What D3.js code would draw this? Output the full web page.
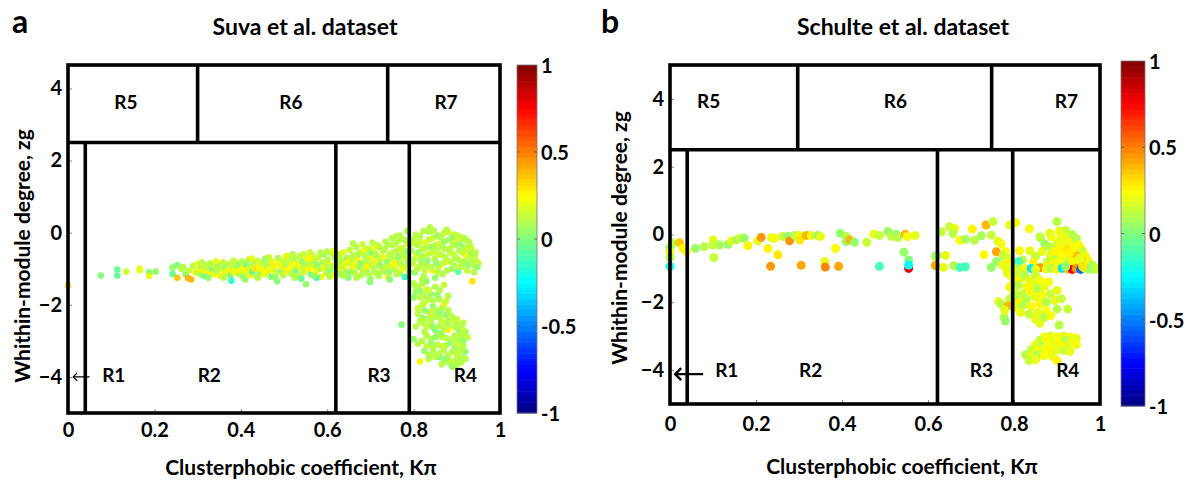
<!DOCTYPE html>
<html><head><meta charset="utf-8">
<script src="https://cdn.jsdelivr.net/npm/d3@7"></script>
<style>
body{margin:0;background:#fff;}
svg{display:block;font-family:Lato,"Open Sans",sans-serif;font-weight:bold;}
</style></head><body>
<svg id="chart" width="1195" height="482"></svg>
<script>
// ---------------- data ----------------
const xTicks=[0,0.2,0.4,0.6,0.8,1];
const xTickLabels=["0","0.2","0.4","0.6","0.8","1"];
const yTicks=[-4,-2,0,2,4];
const cbTicks=[-1,-0.5,0,0.5,1];
const cbTickLabels=["-1","-0.5","0","0.5","1"];
const lowerRegionNames=["R1","R2","R3","R4"];
const upperRegionNames=["R5","R6","R7"];
const hubThreshold=2.5;
const suvaLowerBounds=[0.04,0.62,0.79];
const suvaUpperBounds=[0.3,0.74];
const schulteLowerBounds=[0.04,0.622,0.797];
const schulteUpperBounds=[0.297,0.748];
const titles=["Suva et al. dataset","Schulte et al. dataset"];
const panelLetters=["a","b"];
const xLabel="Clusterphobic coefficient, K\u03c0";
const yLabel="Whithin-module degree, zg";

// [K_pi, z_g, colour value]
const suvaPoints=[
[0.0,-1.46,0.3],[0.076,-1.19,0.0],[0.114,-1.02,-0.05],[0.114,-1.19,-0.05],[0.135,-1.08,0.15],[0.166,-1.0,0.2],[0.166,-1.04,0.2],
[0.188,-1.1,0.0],[0.188,-1.2,0.2],[0.203,-1.08,0.05],[0.242,-0.97,0.05],[0.242,-1.15,-0.05],[0.253,-0.9,0.0],[0.253,-1.25,0.35],
[0.262,-1.0,0.1],[0.267,-0.95,0.1],[0.272,-1.15,0.05],[0.278,-1.26,0.4],[0.285,-1.3,0.4],[0.28,-1.05,0.15],[0.29,-0.92,0.1],[0.295,-1.1,0.2],
[0.30,-0.88,0.2],[0.302,-1.12,0.1],[0.305,-1.0,0.25],[0.308,-0.95,0.1],[0.31,-1.18,0.05],[0.314,-1.05,0.2],[0.318,-0.9,0.15],[0.32,-1.22,-0.05],
[0.323,-0.98,0.1],[0.327,-1.1,0.25],[0.33,-0.85,0.1],[0.334,-1.03,0.0],[0.338,-1.15,0.2],[0.341,-0.93,0.15],[0.345,-1.08,0.1],[0.348,-0.88,0.05],
[0.352,-1.2,0.25],[0.355,-1.0,0.1],[0.359,-0.82,0.15],[0.362,-1.12,0.2],[0.366,-0.95,0.05],[0.37,-1.05,0.25],[0.373,-0.87,0.1],[0.376,-1.18,0.0],
[0.378,-1.33,-0.15],[0.38,-0.98,0.15],[0.384,-1.1,0.25],[0.387,-0.83,0.1],[0.39,-1.02,0.2],[0.393,-0.92,0.05],[0.396,-1.15,0.1],[0.399,-1.05,0.25],
[0.402,-0.8,0.1],[0.405,-0.97,0.2],[0.408,-1.12,0.15],[0.41,-1.3,0.05],[0.412,-0.88,0.0],[0.415,-1.05,0.25],[0.418,-0.75,0.1],[0.421,-1.18,0.2],
[0.424,-0.95,0.15],[0.427,-1.08,-0.05],[0.43,-0.85,0.1],[0.433,-1.0,0.3],[0.436,-1.2,0.1],[0.439,-0.78,0.15],[0.442,-0.92,0.2],[0.445,-1.1,0.05],
[0.448,-1.02,0.25],[0.451,-0.83,0.1],[0.454,-1.15,0.2],[0.457,-0.72,0.05],[0.46,-0.96,0.15],[0.463,-1.07,0.25],[0.466,-0.88,0.1],[0.469,-1.22,0.0],
[0.472,-0.8,0.2],[0.475,-1.0,0.1],[0.478,-0.92,0.25],[0.481,-1.13,0.15],[0.484,-1.35,0.0],[0.486,-0.7,0.1],[0.489,-0.85,0.2],[0.492,-1.05,0.05],
[0.495,-0.95,0.25],[0.498,-1.18,0.1],[0.5,-0.78,0.15],
[0.503,-0.9,0.1],[0.506,-1.08,0.2],[0.509,-0.68,0.05],[0.512,-1.0,0.25],[0.515,-0.82,0.15],[0.518,-1.15,0.1],[0.521,-0.95,0.2],[0.524,-0.74,0.1],
[0.527,-1.05,0.0],[0.53,-0.88,0.25],[0.533,-1.2,0.1],[0.536,-0.65,0.15],[0.539,-0.98,0.2],[0.542,-0.8,0.05],[0.545,-1.1,0.15],[0.548,-0.92,0.1],
[0.551,-1.43,0.05],[0.553,-0.72,0.2],[0.556,-1.02,0.25],[0.559,-0.86,0.1],[0.562,-1.16,0.0],[0.565,-0.62,0.15],[0.568,-0.95,0.2],[0.571,-0.78,0.1],
[0.574,-1.08,0.25],[0.577,-0.9,0.05],[0.58,-0.68,0.15],[0.583,-1.0,0.1],[0.586,-1.22,0.2],[0.589,-0.83,0.1],[0.592,-0.6,0.05],[0.595,-0.97,0.25],
[0.598,-1.12,0.15],[0.601,-0.75,0.1],[0.604,-0.88,0.2],[0.607,-1.05,0.0],[0.61,-0.58,0.15],[0.613,-0.93,0.1],[0.616,-1.18,0.25],[0.618,-0.7,0.1],
[0.52,-0.6,0.1],[0.56,-0.55,0.15],[0.6,-0.52,0.1],[0.575,-1.25,-0.1],[0.54,-1.28,-0.05],
[0.31,-0.82,0.1],[0.325,-1.25,0.05],[0.343,-0.8,0.2],[0.36,-1.25,0.1],[0.383,-0.78,0.15],[0.405,-1.22,0.05],[0.425,-0.72,0.2],[0.44,-1.25,0.1],
[0.465,-0.68,0.15],[0.48,-1.25,0.05],[0.505,-0.65,0.2],[0.525,-1.25,0.1],[0.545,-0.6,0.15],[0.57,-1.2,0.05],[0.585,-0.55,0.1],[0.605,-1.22,0.1],
[0.615,-0.5,0.2],[0.47,-1.0,0.2],[0.52,-0.88,0.2],[0.56,-0.7,0.25],[0.6,-0.95,0.1],
[0.622,-0.85,0.1],[0.625,-1.0,0.2],[0.628,-0.65,0.15],[0.631,-1.15,0.05],[0.634,-0.78,0.1],[0.637,-0.55,0.2],[0.64,-0.92,0.25],[0.643,-1.08,0.1],
[0.646,-0.7,0.05],[0.649,-1.25,0.0],[0.652,-0.48,0.15],[0.655,-0.85,0.1],[0.658,-1.0,0.2],[0.661,-0.62,0.1],[0.664,-1.12,0.15],[0.667,-0.4,0.1],
[0.67,-0.75,0.25],[0.673,-0.95,0.05],[0.676,-0.55,0.15],[0.679,-1.18,0.1],[0.682,-0.32,0.15],[0.685,-0.82,0.2],[0.688,-0.65,0.1],[0.691,-1.05,0.05],
[0.694,-0.45,0.1],[0.697,-0.9,0.15],[0.699,-1.37,0.0],[0.702,-0.7,0.2],[0.705,-0.28,0.1],[0.708,-1.0,0.1],[0.711,-0.58,0.15],[0.714,-0.83,0.25],
[0.717,-1.15,0.1],[0.72,-0.4,0.05],[0.723,-0.72,0.1],[0.726,-0.95,0.2],[0.729,-0.5,0.15],[0.732,-1.08,0.1],[0.735,-0.25,0.1],[0.738,-0.8,0.05],
[0.741,-1.24,0.25],[0.744,-0.62,0.1],[0.747,-0.92,0.15],[0.75,-0.35,0.1],[0.753,-0.75,0.2],[0.756,-1.02,0.1],[0.759,-0.52,0.05],[0.762,-0.85,0.15],
[0.765,-0.22,0.1],[0.768,-1.12,0.1],[0.771,-0.65,0.2],[0.774,-0.42,0.15],[0.777,-0.95,0.1],[0.78,-1.23,-0.15],[0.783,-0.72,0.1],[0.786,-0.3,0.15],
[0.788,-0.88,0.05],[0.66,-0.3,0.1],[0.7,-1.28,0.05],[0.745,-1.3,0.0],[0.72,-1.2,0.1],[0.65,-0.75,0.3],[0.69,-0.95,0.25],[0.76,-0.1,0.1],[0.785,0.05,0.1],
[0.625,-0.6,0.1],[0.632,-0.95,0.15],[0.638,-1.2,0.1],[0.645,-0.85,0.2],[0.653,-1.1,0.05],[0.657,-0.7,0.1],[0.663,-0.9,0.2],[0.668,-1.25,0.1],
[0.672,-0.6,0.1],[0.678,-0.85,0.05],[0.683,-1.05,0.15],[0.686,-0.48,0.2],[0.69,-0.75,0.1],[0.695,-1.15,0.1],[0.7,-0.55,0.05],[0.703,-0.88,0.15],
[0.707,-0.42,0.2],[0.71,-1.1,0.1],[0.715,-0.65,0.1],[0.718,-0.35,0.15],[0.722,-0.9,0.05],[0.727,-1.05,0.1],[0.73,-0.68,0.2],[0.734,-0.45,0.1],
[0.737,-0.95,0.15],[0.74,-0.32,0.1],[0.743,-1.1,0.05],[0.748,-0.7,0.1],[0.752,-0.55,0.15],[0.755,-0.88,0.25],[0.758,-0.3,0.1],[0.761,-1.15,0.1],
[0.764,-0.68,0.05],[0.767,-0.45,0.15],[0.77,-0.85,0.1],[0.773,-1.0,0.2],[0.776,-0.58,0.1],[0.779,-0.2,0.1],[0.782,-0.95,0.15],[0.785,-0.52,0.05],
[0.789,-1.1,0.1],[0.768,-0.08,0.1],[0.75,-0.15,0.1],
[0.795,-0.5,0.1],[0.798,-0.85,0.15],[0.8,-0.2,0.1],[0.803,-1.1,0.05],[0.806,-0.65,0.2],[0.809,-0.35,0.1],[0.812,-0.95,0.15],[0.815,-0.1,0.1],
[0.818,-0.75,0.05],[0.821,-0.45,0.15],[0.824,-1.2,0.1],[0.827,-0.28,0.2],[0.83,-0.9,0.1],[0.833,-0.6,0.15],[0.836,0.02,0.1],[0.838,0.15,0.1],
[0.84,-0.4,0.05],[0.843,-1.05,0.2],[0.846,-0.15,0.15],[0.849,-0.72,0.1],[0.852,-0.5,0.1],[0.855,-0.08,0.05],[0.858,-0.95,0.15],[0.861,-0.3,0.2],
[0.864,-0.62,0.1],[0.867,-1.15,0.1],[0.87,-0.02,0.15],[0.873,-0.45,0.1],[0.876,0.08,0.1],[0.879,-0.8,0.2],[0.882,-0.2,0.1],[0.885,-0.55,0.15],
[0.888,-1.0,0.05],[0.891,-0.35,0.1],[0.894,-0.05,0.15],[0.897,-0.7,0.1],[0.9,-0.25,0.2],[0.903,-1.08,-0.05],[0.906,-0.5,0.1],[0.909,-0.12,0.15],
[0.912,-0.85,0.1],[0.915,-0.4,0.05],[0.918,-0.6,0.25],[0.921,-0.2,0.1],[0.924,-1.05,0.15],[0.927,-0.75,0.1],[0.93,-0.35,0.1],[0.933,-0.55,0.05],
[0.936,-1.35,0.3],[0.939,-0.9,0.1],[0.942,-0.65,0.15],[0.946,-0.8,0.1],[0.95,-0.84,0.15],[0.94,-1.1,0.1],[0.82,-1.3,0.1],[0.85,-1.25,0.05],
[0.797,-0.3,0.15],[0.801,-0.75,0.1],[0.805,-0.05,0.1],[0.808,-1.0,0.1],[0.811,-0.55,0.05],[0.814,-0.25,0.15],[0.817,-0.88,0.1],[0.82,-0.65,0.1],
[0.823,0.05,0.1],[0.826,-1.05,0.15],[0.829,-0.42,0.1],[0.832,-0.78,0.05],[0.835,-0.2,0.15],[0.841,-0.95,0.1],[0.844,-0.55,0.15],[0.847,0.05,0.1],
[0.85,-0.35,0.1],[0.853,-0.85,0.05],[0.856,-1.1,0.1],[0.859,-0.6,0.15],[0.862,-0.12,0.1],[0.865,-0.4,0.1],[0.868,-0.85,0.15],[0.871,-0.25,0.05],
[0.874,-0.68,0.1],[0.877,-1.05,0.1],[0.88,0.02,0.15],[0.883,-0.45,0.1],[0.886,-0.8,0.1],[0.889,-0.15,0.05],[0.892,-0.6,0.15],[0.895,-0.92,0.1],
[0.898,-0.35,0.1],[0.901,-0.08,0.15],[0.904,-0.75,0.1],[0.907,-0.3,0.05],[0.91,-0.95,0.1],[0.913,-0.55,0.15],[0.916,-0.15,0.1],[0.919,-0.78,0.1],
[0.922,-0.45,0.15],[0.925,-0.9,0.05],[0.928,-0.25,0.1],[0.931,-0.7,0.1],[0.934,-0.45,0.15],[0.937,-0.85,0.1],[0.944,-0.55,0.1],[0.948,-0.95,0.05],
[0.8,-1.4,0.1],[0.81,-1.5,0.15],[0.805,-1.65,0.05],[0.82,-1.42,0.1],[0.83,-1.58,0.2],[0.815,-1.8,0.1],[0.84,-1.7,0.05],[0.825,-1.95,0.15],
[0.85,-1.5,0.1],[0.86,-1.85,0.1],[0.845,-2.05,0.05],[0.81,-2.1,0.15],[0.835,-2.2,0.1],[0.87,-2.0,0.2],[0.855,-2.3,0.1],[0.82,-2.35,0.05],
[0.88,-2.15,0.1],[0.865,-2.45,0.15],[0.84,-2.5,0.1],[0.805,-2.6,0.1],[0.89,-2.35,0.05],[0.9,-2.5,0.1],[0.875,-2.6,0.15],[0.85,-2.7,0.0],
[0.825,-2.75,0.1],[0.91,-2.6,0.1],[0.88,-2.7,0.25],[0.92,-2.75,0.05],[0.895,-2.85,0.1],[0.865,-2.9,0.15],[0.84,-2.95,0.1],[0.8,-2.95,0.05],
[0.81,-3.08,0.1],[0.905,-3.0,0.1],[0.925,-2.9,0.15],[0.885,-3.05,0.0],[0.855,-3.1,0.1],[0.83,-3.15,0.15],[0.915,-3.15,0.1],[0.895,-3.2,0.05],
[0.87,-3.25,0.1],[0.845,-3.3,0.1],[0.9,-3.35,0.15],[0.92,-3.3,0.05],[0.88,-3.4,0.1],[0.86,-3.45,0.0],[0.835,-3.4,0.1],[0.91,-3.45,0.1],
[0.895,-3.55,0.15],[0.87,-3.58,0.05],[0.815,-3.57,0.25],[0.885,-3.65,0.1],[0.9,-3.68,0.1],[0.772,-2.55,0.0],[0.86,-1.6,0.1],[0.83,-1.35,0.05],
[0.87,-1.45,0.15],[0.85,-2.15,0.1],[0.875,-2.28,0.05],[0.895,-2.45,0.1],[0.83,-2.6,0.15],[0.86,-2.58,0.1],[0.815,-2.45,0.1],[0.91,-2.85,0.1],
[0.84,-3.05,0.05],[0.875,-3.12,0.1],[0.9,-3.1,0.15],[0.86,-3.35,0.1],[0.825,-3.28,0.05],[0.92,-3.5,0.1],[0.88,-3.52,0.15],[0.89,-2.95,0.1],
[0.865,-2.78,0.05],[0.835,-1.85,0.1],[0.82,-2.0,0.15],[0.8,-1.8,0.05],[0.845,-2.35,0.1],[0.855,-2.85,0.1],[0.905,-2.7,0.05],[0.88,-2.55,0.1],
[0.805,-1.5,0.1],[0.815,-1.62,0.05],[0.825,-1.75,0.1],[0.835,-1.6,0.15],[0.845,-1.88,0.1],[0.855,-1.72,0.05],[0.865,-2.1,0.1],[0.81,-2.25,0.1],
[0.825,-2.15,0.05],[0.84,-2.28,0.15],[0.86,-2.35,0.1],[0.885,-2.3,0.1],[0.9,-2.4,0.15],[0.915,-2.5,0.1],[0.82,-2.5,0.1],[0.845,-2.62,0.05],
[0.87,-2.68,0.1],[0.895,-2.62,0.1],[0.915,-2.7,0.15],[0.83,-2.85,0.1],[0.85,-2.9,0.05],[0.875,-2.92,0.1],[0.9,-2.9,0.1],[0.915,-3.0,0.05],
[0.82,-3.0,0.1],[0.845,-3.18,0.1],[0.865,-3.15,0.15],[0.89,-3.3,0.1],[0.91,-3.25,0.1],[0.85,-3.45,0.1],[0.875,-3.48,0.05],[0.9,-3.5,0.1],
[0.865,-3.65,0.1],[0.89,-3.72,0.05],[0.91,-3.6,0.1],[0.88,-1.75,0.1],[0.875,-1.9,0.15],[0.86,-2.2,0.05],[0.88,-2.45,0.1],[0.835,-3.5,0.1],[0.83,-2.4,0.1]
];

const schultePoints=[
[0.0,-0.38,0.05],[0.0,-0.52,0.22],[0.0,-0.68,0.12],[0.0,-0.94,-0.25],[0.005,-0.25,0.1],[0.022,-0.24,0.35],[0.03,-0.41,0.25],[0.038,-0.5,0.25],
[0.059,-0.41,0.05],[0.08,-0.36,0.12],[0.1,-0.16,0.2],[0.1,-0.31,0.15],[0.102,-0.68,0.15],[0.115,-0.31,0.08],[0.135,-0.29,0.05],[0.143,-0.19,0.2],
[0.154,-0.16,0.08],[0.162,-0.11,0.15],[0.173,-0.11,0.05],[0.181,-0.33,0.25],[0.204,-0.19,0.2],[0.212,-0.09,0.45],[0.228,-0.41,0.25],[0.236,-0.09,0.2],
[0.243,-0.11,0.22],[0.234,-0.94,0.45],[0.251,-0.6,0.3],[0.262,-0.06,0.15],[0.274,-0.06,0.05],[0.278,-0.19,0.45],[0.29,-0.03,0.12],[0.3,-0.03,0.2],
[0.302,-0.16,0.3],[0.305,-0.91,0.42],[0.317,-0.03,0.38],[0.329,-0.03,0.2],[0.344,-0.03,0.05],[0.35,-0.06,0.2],[0.36,-0.8,0.2],[0.361,-0.96,0.48],
[0.385,-0.41,0.22],[0.392,-0.94,0.42],[0.396,0.04,0.05],[0.41,-0.06,0.12],[0.41,-0.21,0.05],[0.418,-0.16,0.38],[0.429,-0.23,0.05],[0.458,-0.23,0.15],
[0.474,0.01,0.2],[0.487,-0.03,0.15],[0.487,-0.94,-0.1],[0.507,0.09,0.05],[0.515,-0.06,0.15],[0.526,0.01,0.05],[0.53,-0.09,0.12],[0.544,-0.52,0.05],
[0.547,0.01,0.38],[0.552,-0.06,0.22],[0.555,-0.75,0.0],[0.555,-1.0,0.8],[0.555,-0.9,-0.25],[0.57,-0.03,0.2],[0.617,-0.91,0.4],[0.617,-0.65,0.12],
[0.631,0.08,0.15],[0.65,0.23,0.15],[0.662,0.18,0.2],[0.658,0.03,0.1],[0.674,-0.17,0.22],[0.687,-0.14,0.08],[0.703,0.16,0.25],[0.708,-0.17,0.12],
[0.724,-0.04,0.08],[0.735,0.28,0.38],[0.747,-0.02,0.15],[0.751,0.38,0.15],[0.763,-0.2,0.2],[0.77,-0.27,0.22],[0.759,-0.51,0.42],[0.73,-0.6,0.25],
[0.621,-0.62,0.05],[0.641,-0.62,0.2],[0.618,-0.92,0.42],[0.636,-0.97,0.2],[0.66,-0.92,0.12],[0.674,-0.97,-0.1],[0.687,-0.95,-0.12],[0.747,-0.97,0.05],
[0.759,-0.8,0.05],[0.773,-0.9,0.2],[0.79,0.28,0.2],[0.78,-0.5,0.22],[0.785,-0.7,0.2],[0.79,-0.85,0.25],[0.782,-1.0,0.2],[0.792,-1.15,0.22],[0.775,-0.62,0.15],
[0.804,0.35,0.22],[0.836,0.17,0.22],[0.862,-0.1,0.05],[0.887,-0.07,0.22],[0.9,0.38,0.12],[0.86,-0.07,0.15],[0.883,0.04,0.2],[0.872,-0.29,0.05],
[0.813,-0.48,0.22],[0.837,-0.48,0.2],[0.85,-0.65,0.15],[0.82,-0.75,0.1],[0.81,-0.8,-0.1],[0.845,-0.82,0.25],[0.865,-0.5,0.2],[0.88,-0.35,0.1],
[0.905,0.1,0.2],[0.915,0.05,0.25],[0.92,0.12,0.15],[0.91,-0.1,0.22],[0.925,-0.05,0.2],[0.93,-0.15,0.25],[0.935,0.0,0.12],[0.9,-0.25,0.2],
[0.918,-0.3,0.25],[0.94,-0.22,0.2],[0.945,-0.12,0.1],[0.95,-0.3,0.22],[0.892,-0.4,0.15],[0.905,-0.45,0.25],[0.925,-0.42,0.3],[0.938,-0.5,0.2],
[0.955,-0.4,0.25],[0.96,-0.5,0.15],[0.885,-0.6,0.2],[0.898,-0.65,0.1],[0.912,-0.6,0.25],[0.93,-0.68,0.2],[0.945,-0.62,0.35],[0.965,-0.62,0.2],
[0.97,-0.72,0.25],[0.878,-0.8,0.15],[0.89,-0.85,0.25],[0.905,-0.78,0.2],[0.92,-0.85,0.05],[0.935,-0.8,0.25],[0.95,-0.88,0.2],[0.96,-0.78,0.3],
[0.975,-0.85,0.2],[0.982,-0.9,0.1],[0.87,-0.95,0.2],[0.995,-1.0,0.1],[0.985,-1.02,0.2],[0.915,-0.2,0.2],[0.94,-0.38,0.22],[0.928,-0.55,0.25],
[0.952,-0.72,0.2],[0.91,-0.72,0.22],[0.895,-0.5,0.25],
[0.8,-1.0,0.2],[0.81,-1.02,0.1],[0.825,-1.0,0.25],[0.84,-1.0,-0.3],[0.86,-0.98,0.45],[0.875,-1.02,0.2],[0.888,-1.0,0.1],[0.9,-1.03,0.25],
[0.912,-1.0,-0.3],[0.925,-1.02,0.4],[0.935,-1.03,0.75],[0.945,-1.0,0.45],[0.955,-1.03,-0.55],[0.965,-1.0,0.2],[0.975,-1.02,0.05],[0.99,-1.02,0.15],
[0.85,-1.03,0.2],[0.92,-0.95,0.05],[0.96,-0.95,0.3],
[0.785,-1.15,0.2],[0.795,-1.25,0.22],[0.805,-1.12,0.15],[0.815,-1.3,0.2],[0.8,-1.4,0.25],[0.825,-1.2,0.12],[0.835,-1.35,0.2],[0.79,-1.55,0.22],
[0.81,-1.5,0.1],[0.83,-1.55,0.25],[0.845,-1.45,0.2],[0.85,-1.2,0.15],[0.86,-1.35,0.22],[0.8,-1.7,0.2],[0.82,-1.75,0.15],[0.84,-1.68,0.25],
[0.855,-1.6,0.1],[0.87,-1.55,0.2],[0.88,-1.4,0.22],[0.79,-1.9,0.15],[0.81,-1.95,0.25],[0.83,-1.9,0.1],[0.85,-1.85,0.2],[0.865,-1.8,0.22],
[0.885,-1.75,0.15],[0.9,-1.65,0.2],[0.8,-2.15,0.2],[0.82,-2.1,0.12],[0.84,-2.12,0.22],[0.86,-2.05,0.25],[0.875,-2.0,0.1],[0.895,-1.95,0.2],
[0.91,-1.9,0.15],[0.815,-2.3,0.2],[0.835,-2.35,0.15],[0.855,-2.3,0.2],[0.875,-2.25,0.22],[0.9,-2.2,0.1],[0.925,-2.2,0.15],[0.85,-2.5,0.2],
[0.87,-2.45,0.1],[0.885,-2.4,0.22],[0.905,-2.67,0.1],[0.86,-2.62,0.2],[0.764,-1.98,0.2],[0.777,-2.44,0.12],[0.77,-2.05,0.12],[0.786,-2.1,0.4],
[0.778,-2.23,0.2],[0.78,-2.55,0.05],[0.795,-1.05,0.2],[0.805,-1.8,0.1],
[0.87,-3.02,0.22],[0.885,-3.0,0.2],[0.9,-3.02,0.25],[0.915,-3.0,0.2],[0.93,-3.02,0.22],[0.945,-3.05,0.2],[0.86,-3.12,0.15],[0.875,-3.15,0.25],
[0.89,-3.12,0.2],[0.905,-3.15,0.22],[0.92,-3.12,0.1],[0.935,-3.15,0.2],[0.945,-3.25,0.22],[0.85,-3.25,0.2],[0.865,-3.28,0.1],[0.88,-3.25,0.22],
[0.895,-3.3,0.2],[0.91,-3.28,0.25],[0.925,-3.3,0.2],[0.84,-3.4,0.15],[0.855,-3.42,0.22],[0.87,-3.38,0.2],[0.885,-3.45,0.25],[0.9,-3.4,0.2],
[0.915,-3.42,0.15],[0.93,-3.45,0.2],[0.827,-3.55,0.12],[0.84,-3.6,0.2],[0.855,-3.55,0.1],[0.87,-3.58,0.22],[0.835,-3.72,0.15],[0.85,-3.7,0.2],
[0.89,-3.6,0.2],[0.9,-3.72,0.25]
];

// ---------------- layout ----------------
const panels=[
 {letter:panelLetters[0],title:titles[0],pts:suvaPoints,lower:suvaLowerBounds,upper:suvaUpperBounds,
  x0:68,x1:500,y0:65,y1:413,yDom:[-5,4.65],r:3.3,
  cb:{x:517,w:20,y0:65,y1:413},letterPos:[20,33],titlePos:[305,35],xlabPos:[301,475],ylabPos:[21,256],xPad:10,
  upperLab:[0.134,0.516,0.875],upperLabY:3.63,lowerLab:[0.106,0.327,0.72,0.92],lowerLabY:-3.92,
  arrow:{xa:0.012,xb:0.05,y:-4,w:1.2,h:4}},
 {letter:panelLetters[1],title:titles[1],pts:schultePoints,lower:schulteLowerBounds,upper:schulteUpperBounds,
  x0:670,x1:1100,y0:65,y1:404,yDom:[-5,5],r:4.5,
  cb:{x:1121,w:24,y0:61,y1:406},letterPos:[610,33],titlePos:[903,35],xlabPos:[902,474],ylabPos:[618,238],xPad:13,
  upperLab:[0.09,0.524,0.922],upperLabY:3.96,lowerLab:[0.132,0.327,0.724,0.925],lowerLabY:-3.97,
  arrow:{xa:0.012,xb:0.077,y:-4.12,w:2.4,h:6}}
];

function jet(t){
  const cl=v=>Math.max(0,Math.min(1,v));
  const r=cl(Math.min(4*t-1.5,-4*t+4.5)), g=cl(Math.min(4*t-0.5,-4*t+3.5)), b=cl(Math.min(4*t+0.5,-4*t+2.5));
  return d3.rgb(r*255,g*255,b*255).formatHex();
}
const NC=64;
const cScale=d3.scaleQuantize().domain([-1,1]).range(d3.range(NC).map(i=>jet((i+0.5)/NC)));

const svg=d3.select("#chart");
const LW=3.6;

panels.forEach(p=>{
  const x=d3.scaleLinear().domain([0,1]).range([p.x0,p.x1]);
  const y=d3.scaleLinear().domain(p.yDom).range([p.y1,p.y0]);
  const g=svg.append("g");

  g.append("g").selectAll("circle").data(p.pts).join("circle")
   .attr("cx",d=>x(d[0])).attr("cy",d=>y(d[1])).attr("r",p.r)
   .attr("fill",d=>cScale(d[2]));

  const ax=g.append("g").attr("transform",`translate(0,${p.y1})`)
   .call(d3.axisBottom(x).tickValues(xTicks).tickFormat((d,i)=>xTickLabels[i]).tickSizeInner(-4).tickSizeOuter(0).tickPadding(p.xPad));
  const ay=g.append("g").attr("transform",`translate(${p.x0},0)`)
   .call(d3.axisLeft(y).tickValues(yTicks).tickFormat(d3.format("d")).tickSizeInner(-4).tickSizeOuter(0).tickPadding(6));
  [ax,ay].forEach(a=>{
    a.select(".domain").remove();
    a.selectAll("line").attr("stroke","#888").attr("stroke-width",1);
    a.selectAll("text").attr("font-size",20).attr("font-weight","bold").attr("fill","#000").attr("font-family","Lato");
  });

  const lines=g.append("g").attr("stroke","#000").attr("stroke-width",LW).attr("fill","none");
  lines.append("line").attr("x1",x(0)).attr("x2",x(1)).attr("y1",y(hubThreshold)).attr("y2",y(hubThreshold));
  p.lower.forEach(v=>lines.append("line").attr("x1",x(v)).attr("x2",x(v)).attr("y1",y(hubThreshold)).attr("y2",y(p.yDom[0])));
  p.upper.forEach(v=>lines.append("line").attr("x1",x(v)).attr("x2",x(v)).attr("y1",y(hubThreshold)).attr("y2",y(p.yDom[1])));
  lines.append("rect").attr("x",p.x0).attr("y",p.y0).attr("width",p.x1-p.x0).attr("height",p.y1-p.y0);

  const a=p.arrow, ya=y(a.y), xa=x(a.xa), xb=x(a.xb);
  g.append("path").attr("d",`M${xb},${ya}L${xa},${ya}M${xa+a.h},${ya-a.h}L${xa},${ya}L${xa+a.h},${ya+a.h}`)
   .attr("stroke","#000").attr("stroke-width",a.w).attr("fill","none");

  const lab=g.append("g").attr("font-size",19).attr("text-anchor","middle").attr("dominant-baseline","central");
  upperRegionNames.forEach((n,i)=>lab.append("text").attr("x",x(p.upperLab[i])).attr("y",y(p.upperLabY)).text(n));
  lowerRegionNames.forEach((n,i)=>lab.append("text").attr("x",x(p.lowerLab[i])).attr("y",y(p.lowerLabY)).text(n));

  g.append("text").attr("x",p.letterPos[0]).attr("y",p.letterPos[1]).attr("font-size",32).attr("text-anchor","middle").text(p.letter);
  g.append("text").attr("x",p.titlePos[0]).attr("y",p.titlePos[1]).attr("font-size",23).attr("text-anchor","middle").text(p.title);
  g.append("text").attr("x",p.xlabPos[0]).attr("y",p.xlabPos[1]).attr("font-size",21).attr("text-anchor","middle").text(xLabel);
  g.append("text").attr("transform",`translate(${p.ylabPos[0]},${p.ylabPos[1]}) rotate(-90)`)
   .attr("font-size",21).attr("text-anchor","middle").attr("dominant-baseline","central").text(yLabel);

  const cb=p.cb;
  const cy=d3.scaleLinear().domain([-1,1]).range([cb.y1,cb.y0]);
  const step=2/NC;
  const cbg=g.append("g");
  cbg.selectAll("rect").data(d3.range(NC)).join("rect")
   .attr("x",cb.x).attr("width",cb.w)
   .attr("y",i=>cy(-1+(i+1)*step)).attr("height",i=>cy(-1+i*step)-cy(-1+(i+1)*step)+0.5)
   .attr("fill",i=>jet((i+0.5)/NC));
  cbg.append("rect").attr("x",cb.x).attr("y",cb.y0).attr("width",cb.w).attr("height",cb.y1-cb.y0)
   .attr("fill","none").attr("stroke","#777").attr("stroke-width",0.8);
  cbTicks.forEach((v,i)=>{
    if(v>-1&&v<1){
      cbg.append("line").attr("x1",cb.x).attr("x2",cb.x+3).attr("y1",cy(v)).attr("y2",cy(v)).attr("stroke","#555").attr("stroke-width",0.8);
      cbg.append("line").attr("x1",cb.x+cb.w-3).attr("x2",cb.x+cb.w).attr("y1",cy(v)).attr("y2",cy(v)).attr("stroke","#555").attr("stroke-width",0.8);
    }
    cbg.append("text").attr("x",cb.x+cb.w+4).attr("y",cy(v)).attr("font-size",20)
     .attr("dominant-baseline","central").text(cbTickLabels[i]);
  });
});
</script>
</body></html>
